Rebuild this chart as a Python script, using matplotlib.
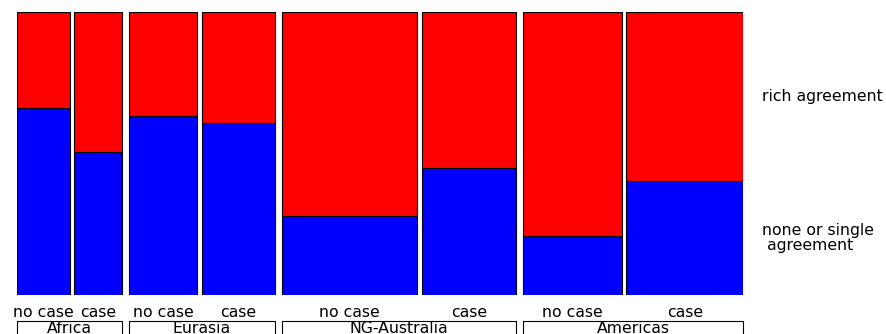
import matplotlib.pyplot as plt
from matplotlib.patches import Rectangle

# Region / case marking mosaic: column width = number of languages,
# split by share of "none or single agreement" (blue) vs "rich agreement" (red)

regions = ["Africa", "Eurasia", "NG-Australia", "Americas"]
case_labels = ["no case", "case"]

n_no_case = [53, 68, 136, 99]
n_case = [48, 73, 94, 117]

none_share_no_case = [0.658, 0.630, 0.277, 0.206]
none_share_case = [0.502, 0.605, 0.446, 0.402]

gap_inner = 4.5
gap_outer = 7.0

fig = plt.figure(figsize=(8.87, 3.34), dpi=100)
ax = fig.add_axes([16.7 / 887, 1 - 294.5 / 334, 726.6 / 887, 283 / 334])
ax.set_axis_off()

fs = 11.3
x = 0.0
for i, region in enumerate(regions):
    group_start = x
    widths = [n_no_case[i], n_case[i]]
    shares = [none_share_no_case[i], none_share_case[i]]
    for j in range(2):
        w = widths[j]
        s = shares[j]
        ax.add_patch(Rectangle((x, 0), w, s, facecolor="#0000ff",
                               edgecolor="black", linewidth=0.8))
        ax.add_patch(Rectangle((x, s), w, 1 - s, facecolor="#ff0000",
                               edgecolor="black", linewidth=0.8))
        ax.text(x + w / 2, -0.078, case_labels[j], ha="center", va="baseline",
                fontsize=fs, clip_on=False)
        x += w
        if j == 0:
            x += gap_inner
    group_end = x
    ax.add_patch(Rectangle((group_start, -0.3), group_end - group_start, 0.207,
                           facecolor="white", edgecolor="black", linewidth=0.8,
                           clip_on=False))
    ax.text((group_start + group_end) / 2, -0.136, region, ha="center",
            va="baseline", fontsize=fs, clip_on=False)
    x += gap_outer

x_end = x - gap_outer
ax.set_xlim(0, x_end)
ax.set_ylim(0, 1)

# response labels beside the last column
last = none_share_case[-1]
ax.text(x_end + 18.7, last + (1 - last) / 2, "rich agreement", ha="left",
        va="center", fontsize=fs, clip_on=False)
ax.text(x_end + 18.7, last / 2, "none or single\n agreement", ha="left",
        va="center", fontsize=fs, clip_on=False, linespacing=1.0)

fig.savefig("out.png", dpi=100)
